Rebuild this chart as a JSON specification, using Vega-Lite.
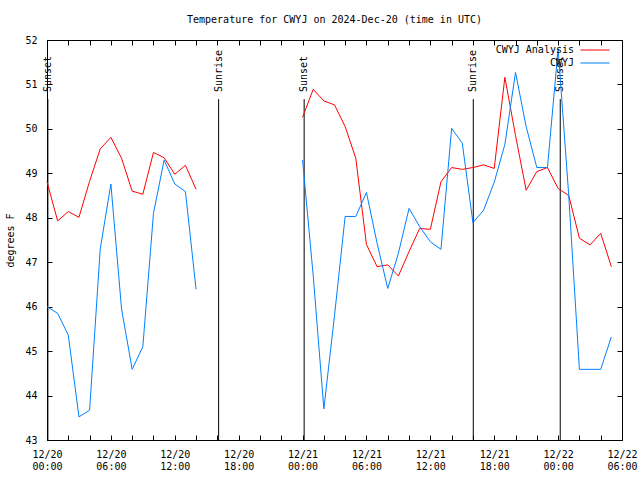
{
  "$schema": "https://vega.github.io/schema/vega-lite/v6.json",
  "width": 575,
  "height": 400,
  "autosize": {"type": "none"},
  "padding": {"left": 47, "top": 40, "right": 18, "bottom": 40},
  "background": "white",
  "title": {"text": "Temperature for CWYJ on 2024-Dec-20 (time in UTC)", "font": "DejaVu Sans Mono", "fontSize": 10, "fontWeight": "normal", "color": "black", "offset": 10, "anchor": "middle"},
  "config": {
    "view": {"stroke": "black", "strokeWidth": 1},
    "axis": {"domainColor": "black", "tickColor": "black", "labelColor": "black", "titleColor": "black", "labelFont": "DejaVu Sans Mono", "titleFont": "DejaVu Sans Mono", "labelFontSize": 10, "titleFontSize": 10, "titleFontWeight": "normal", "grid": false},
    "legend": {"labelFont": "DejaVu Sans Mono", "labelFontSize": 10, "labelColor": "black"}
  },
  "datasets": {
    "temps": [
      {"t": "2024-12-20T00:00:00Z", "series": "CWYJ Analysis", "seg": 1, "temp": 48.81},
      {"t": "2024-12-20T01:00:00Z", "series": "CWYJ Analysis", "seg": 1, "temp": 47.93},
      {"t": "2024-12-20T02:00:00Z", "series": "CWYJ Analysis", "seg": 1, "temp": 48.14},
      {"t": "2024-12-20T03:00:00Z", "series": "CWYJ Analysis", "seg": 1, "temp": 48.01},
      {"t": "2024-12-20T04:00:00Z", "series": "CWYJ Analysis", "seg": 1, "temp": 48.82},
      {"t": "2024-12-20T05:00:00Z", "series": "CWYJ Analysis", "seg": 1, "temp": 49.55},
      {"t": "2024-12-20T06:00:00Z", "series": "CWYJ Analysis", "seg": 1, "temp": 49.81},
      {"t": "2024-12-20T07:00:00Z", "series": "CWYJ Analysis", "seg": 1, "temp": 49.34},
      {"t": "2024-12-20T08:00:00Z", "series": "CWYJ Analysis", "seg": 1, "temp": 48.6},
      {"t": "2024-12-20T09:00:00Z", "series": "CWYJ Analysis", "seg": 1, "temp": 48.53},
      {"t": "2024-12-20T10:00:00Z", "series": "CWYJ Analysis", "seg": 1, "temp": 49.47},
      {"t": "2024-12-20T11:00:00Z", "series": "CWYJ Analysis", "seg": 1, "temp": 49.35},
      {"t": "2024-12-20T12:00:00Z", "series": "CWYJ Analysis", "seg": 1, "temp": 48.98},
      {"t": "2024-12-20T13:00:00Z", "series": "CWYJ Analysis", "seg": 1, "temp": 49.18},
      {"t": "2024-12-20T14:00:00Z", "series": "CWYJ Analysis", "seg": 1, "temp": 48.64},
      {"t": "2024-12-21T00:00:00Z", "series": "CWYJ Analysis", "seg": 2, "temp": 50.26},
      {"t": "2024-12-21T01:00:00Z", "series": "CWYJ Analysis", "seg": 2, "temp": 50.89},
      {"t": "2024-12-21T02:00:00Z", "series": "CWYJ Analysis", "seg": 2, "temp": 50.63},
      {"t": "2024-12-21T03:00:00Z", "series": "CWYJ Analysis", "seg": 2, "temp": 50.54},
      {"t": "2024-12-21T04:00:00Z", "series": "CWYJ Analysis", "seg": 2, "temp": 50.05},
      {"t": "2024-12-21T05:00:00Z", "series": "CWYJ Analysis", "seg": 2, "temp": 49.34},
      {"t": "2024-12-21T06:00:00Z", "series": "CWYJ Analysis", "seg": 2, "temp": 47.4},
      {"t": "2024-12-21T07:00:00Z", "series": "CWYJ Analysis", "seg": 2, "temp": 46.9},
      {"t": "2024-12-21T08:00:00Z", "series": "CWYJ Analysis", "seg": 2, "temp": 46.94},
      {"t": "2024-12-21T09:00:00Z", "series": "CWYJ Analysis", "seg": 2, "temp": 46.69},
      {"t": "2024-12-21T10:00:00Z", "series": "CWYJ Analysis", "seg": 2, "temp": 47.24},
      {"t": "2024-12-21T11:00:00Z", "series": "CWYJ Analysis", "seg": 2, "temp": 47.76},
      {"t": "2024-12-21T12:00:00Z", "series": "CWYJ Analysis", "seg": 2, "temp": 47.74},
      {"t": "2024-12-21T13:00:00Z", "series": "CWYJ Analysis", "seg": 2, "temp": 48.81},
      {"t": "2024-12-21T14:00:00Z", "series": "CWYJ Analysis", "seg": 2, "temp": 49.13},
      {"t": "2024-12-21T15:00:00Z", "series": "CWYJ Analysis", "seg": 2, "temp": 49.09},
      {"t": "2024-12-21T16:00:00Z", "series": "CWYJ Analysis", "seg": 2, "temp": 49.13},
      {"t": "2024-12-21T17:00:00Z", "series": "CWYJ Analysis", "seg": 2, "temp": 49.19},
      {"t": "2024-12-21T18:00:00Z", "series": "CWYJ Analysis", "seg": 2, "temp": 49.11},
      {"t": "2024-12-21T19:00:00Z", "series": "CWYJ Analysis", "seg": 2, "temp": 51.16},
      {"t": "2024-12-21T20:00:00Z", "series": "CWYJ Analysis", "seg": 2, "temp": 49.85},
      {"t": "2024-12-21T21:00:00Z", "series": "CWYJ Analysis", "seg": 2, "temp": 48.62},
      {"t": "2024-12-21T22:00:00Z", "series": "CWYJ Analysis", "seg": 2, "temp": 49.04},
      {"t": "2024-12-21T23:00:00Z", "series": "CWYJ Analysis", "seg": 2, "temp": 49.13},
      {"t": "2024-12-22T00:00:00Z", "series": "CWYJ Analysis", "seg": 2, "temp": 48.66},
      {"t": "2024-12-22T01:00:00Z", "series": "CWYJ Analysis", "seg": 2, "temp": 48.5},
      {"t": "2024-12-22T02:00:00Z", "series": "CWYJ Analysis", "seg": 2, "temp": 47.54},
      {"t": "2024-12-22T03:00:00Z", "series": "CWYJ Analysis", "seg": 2, "temp": 47.39},
      {"t": "2024-12-22T04:00:00Z", "series": "CWYJ Analysis", "seg": 2, "temp": 47.65},
      {"t": "2024-12-22T05:00:00Z", "series": "CWYJ Analysis", "seg": 2, "temp": 46.9},
      {"t": "2024-12-20T00:00:00Z", "series": "CWYJ", "seg": 1, "temp": 46.0},
      {"t": "2024-12-20T01:00:00Z", "series": "CWYJ", "seg": 1, "temp": 45.85},
      {"t": "2024-12-20T02:00:00Z", "series": "CWYJ", "seg": 1, "temp": 45.36},
      {"t": "2024-12-20T03:00:00Z", "series": "CWYJ", "seg": 1, "temp": 43.52},
      {"t": "2024-12-20T04:00:00Z", "series": "CWYJ", "seg": 1, "temp": 43.67},
      {"t": "2024-12-20T05:00:00Z", "series": "CWYJ", "seg": 1, "temp": 47.3},
      {"t": "2024-12-20T06:00:00Z", "series": "CWYJ", "seg": 1, "temp": 48.76},
      {"t": "2024-12-20T07:00:00Z", "series": "CWYJ", "seg": 1, "temp": 45.95},
      {"t": "2024-12-20T08:00:00Z", "series": "CWYJ", "seg": 1, "temp": 44.59},
      {"t": "2024-12-20T09:00:00Z", "series": "CWYJ", "seg": 1, "temp": 45.1},
      {"t": "2024-12-20T10:00:00Z", "series": "CWYJ", "seg": 1, "temp": 48.1},
      {"t": "2024-12-20T11:00:00Z", "series": "CWYJ", "seg": 1, "temp": 49.3},
      {"t": "2024-12-20T12:00:00Z", "series": "CWYJ", "seg": 1, "temp": 48.76},
      {"t": "2024-12-20T13:00:00Z", "series": "CWYJ", "seg": 1, "temp": 48.59},
      {"t": "2024-12-20T14:00:00Z", "series": "CWYJ", "seg": 1, "temp": 46.39},
      {"t": "2024-12-21T00:00:00Z", "series": "CWYJ", "seg": 2, "temp": 49.3},
      {"t": "2024-12-21T01:00:00Z", "series": "CWYJ", "seg": 2, "temp": 46.7},
      {"t": "2024-12-21T02:00:00Z", "series": "CWYJ", "seg": 2, "temp": 43.7},
      {"t": "2024-12-21T03:00:00Z", "series": "CWYJ", "seg": 2, "temp": 45.8},
      {"t": "2024-12-21T04:00:00Z", "series": "CWYJ", "seg": 2, "temp": 48.03},
      {"t": "2024-12-21T05:00:00Z", "series": "CWYJ", "seg": 2, "temp": 48.03},
      {"t": "2024-12-21T06:00:00Z", "series": "CWYJ", "seg": 2, "temp": 48.57},
      {"t": "2024-12-21T07:00:00Z", "series": "CWYJ", "seg": 2, "temp": 47.43},
      {"t": "2024-12-21T08:00:00Z", "series": "CWYJ", "seg": 2, "temp": 46.41},
      {"t": "2024-12-21T09:00:00Z", "series": "CWYJ", "seg": 2, "temp": 47.2},
      {"t": "2024-12-21T10:00:00Z", "series": "CWYJ", "seg": 2, "temp": 48.21},
      {"t": "2024-12-21T11:00:00Z", "series": "CWYJ", "seg": 2, "temp": 47.8},
      {"t": "2024-12-21T12:00:00Z", "series": "CWYJ", "seg": 2, "temp": 47.46},
      {"t": "2024-12-21T13:00:00Z", "series": "CWYJ", "seg": 2, "temp": 47.29},
      {"t": "2024-12-21T14:00:00Z", "series": "CWYJ", "seg": 2, "temp": 50.01},
      {"t": "2024-12-21T15:00:00Z", "series": "CWYJ", "seg": 2, "temp": 49.68},
      {"t": "2024-12-21T16:00:00Z", "series": "CWYJ", "seg": 2, "temp": 47.89},
      {"t": "2024-12-21T17:00:00Z", "series": "CWYJ", "seg": 2, "temp": 48.17},
      {"t": "2024-12-21T18:00:00Z", "series": "CWYJ", "seg": 2, "temp": 48.8},
      {"t": "2024-12-21T19:00:00Z", "series": "CWYJ", "seg": 2, "temp": 49.65},
      {"t": "2024-12-21T20:00:00Z", "series": "CWYJ", "seg": 2, "temp": 51.27},
      {"t": "2024-12-21T21:00:00Z", "series": "CWYJ", "seg": 2, "temp": 50.05},
      {"t": "2024-12-21T22:00:00Z", "series": "CWYJ", "seg": 2, "temp": 49.13},
      {"t": "2024-12-21T23:00:00Z", "series": "CWYJ", "seg": 2, "temp": 49.13},
      {"t": "2024-12-22T00:00:00Z", "series": "CWYJ", "seg": 2, "temp": 51.8},
      {"t": "2024-12-22T01:00:00Z", "series": "CWYJ", "seg": 2, "temp": 48.5},
      {"t": "2024-12-22T02:00:00Z", "series": "CWYJ", "seg": 2, "temp": 44.59},
      {"t": "2024-12-22T03:00:00Z", "series": "CWYJ", "seg": 2, "temp": 44.59},
      {"t": "2024-12-22T04:00:00Z", "series": "CWYJ", "seg": 2, "temp": 44.59},
      {"t": "2024-12-22T05:00:00Z", "series": "CWYJ", "seg": 2, "temp": 45.32}
    ],
    "sun": [
      {"t": "2024-12-20T00:05:00Z", "event": "Sunset"},
      {"t": "2024-12-20T16:07:00Z", "event": "Sunrise"},
      {"t": "2024-12-21T00:09:00Z", "event": "Sunset"},
      {"t": "2024-12-21T16:02:00Z", "event": "Sunrise"},
      {"t": "2024-12-22T00:12:00Z", "event": "Sunset"}
    ]
  },
  "layer": [
    {
      "data": {"name": "sun"},
      "mark": {"type": "rule", "color": "black", "strokeWidth": 1},
      "encoding": {
        "x": {"field": "t", "type": "temporal", "scale": {"type": "utc", "domain": [1734652800000, 1734847200000]}, "axis": null},
        "y": {"datum": 50.67, "type": "quantitative", "scale": {"domain": [43, 52], "nice": false, "zero": false}, "axis": null},
        "y2": {"datum": 43}
      }
    },
    {
      "data": {"name": "sun"},
      "mark": {"type": "text", "angle": 270, "align": "left", "baseline": "middle", "font": "DejaVu Sans Mono", "fontSize": 10, "color": "black"},
      "encoding": {
        "x": {"field": "t", "type": "temporal", "axis": null},
        "y": {"datum": 50.83, "type": "quantitative", "axis": null},
        "text": {"field": "event"}
      }
    },
    {
      "data": {"name": "temps"},
      "mark": {"type": "line", "strokeWidth": 1, "interpolate": "linear"},
      "encoding": {
        "x": {"field": "t", "type": "temporal",
          "axis": {"title": null, "values": [1734652800000,1734660000000,1734667200000,1734674400000,1734681600000,1734688800000,1734696000000,1734703200000,1734710400000,1734717600000,1734724800000,1734732000000,1734739200000,1734746400000,1734753600000,1734760800000,1734768000000,1734775200000,1734782400000,1734789600000,1734796800000,1734804000000,1734811200000,1734818400000,1734825600000,1734832800000,1734840000000,1734847200000],
            "labelExpr": "utchours(datum.value) % 6 == 0 ? [utcFormat(datum.value, '%m/%d'), utcFormat(datum.value, '%H:%M')] : ''",
            "tickSize": -5, "labelPadding": 14, "labelFlush": false, "labelOverlap": false, "labelLineHeight": 12}},
        "y": {"field": "temp", "type": "quantitative",
          "axis": {"title": "degrees F", "values": [43,44,45,46,47,48,49,50,51,52], "tickSize": -5, "labelPadding": 15, "titlePadding": 9}},
        "color": {"field": "series", "type": "nominal",
          "scale": {"domain": ["CWYJ Analysis", "CWYJ"], "range": ["#ff0000", "#0080ff"]},
          "legend": {"title": null, "orient": "none", "legendX": 543, "legendY": 5, "symbolType": "M-5,0H5", "symbolSize": 34, "symbolStrokeWidth": 1, "symbolFillColor": "transparent", "labelAlign": "right", "labelOffset": -26, "rowPadding": 3, "padding": 0}},
        "detail": {"field": "seg"}
      }
    },
    {
      "data": {"name": "temps"},
      "mark": {"type": "line", "opacity": 0},
      "encoding": {
        "x": {"field": "t", "type": "temporal", "axis": {"orient": "top", "title": null, "labels": false, "tickSize": -5, "values": [1734652800000,1734660000000,1734667200000,1734674400000,1734681600000,1734688800000,1734696000000,1734703200000,1734710400000,1734717600000,1734724800000,1734732000000,1734739200000,1734746400000,1734753600000,1734760800000,1734768000000,1734775200000,1734782400000,1734789600000,1734796800000,1734804000000,1734811200000,1734818400000,1734825600000,1734832800000,1734840000000,1734847200000]}},
        "y": {"field": "temp", "type": "quantitative", "axis": {"orient": "right", "title": null, "labels": false, "tickSize": -5, "values": [43,44,45,46,47,48,49,50,51,52]}},
        "detail": {"field": "seg"}
      }
    }
  ],
  "resolve": {"axis": {"x": "independent", "y": "independent"}}
}
